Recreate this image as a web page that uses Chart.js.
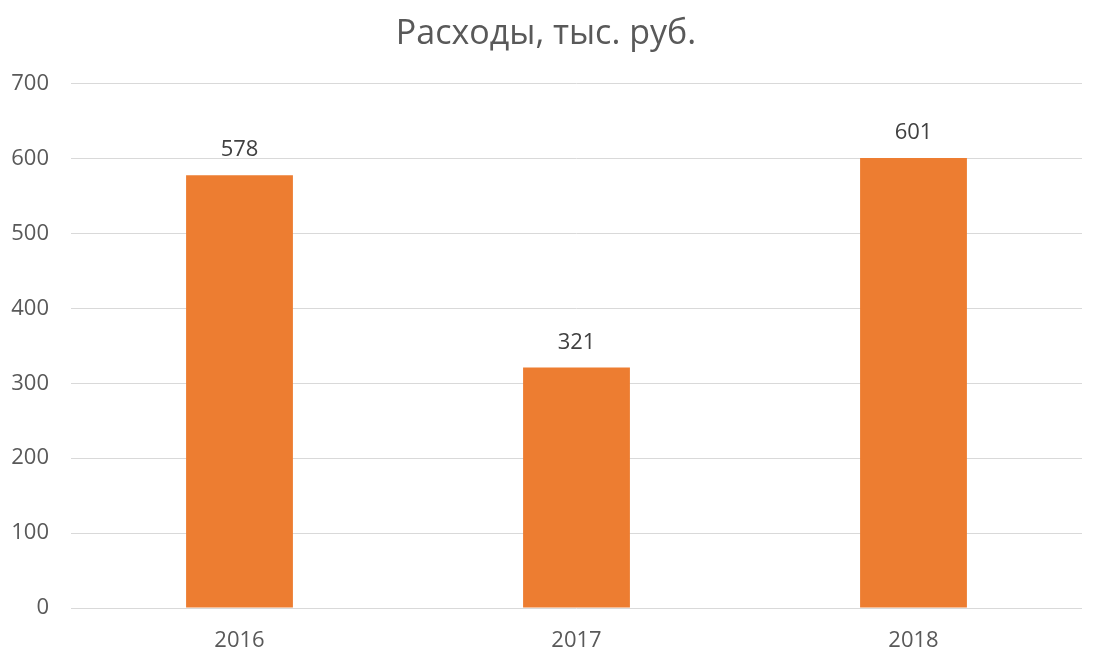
<!DOCTYPE html>
<html>
<head>
<meta charset="utf-8">
<script src="https://cdn.jsdelivr.net/npm/chart.js@4"></script>
<style>
html,body{margin:0;padding:0;background:#fff;}
#wrap{width:1099px;height:666px;position:relative;}
</style>
</head>
<body>
<div id="wrap"><canvas id="c" width="1099" height="666"></canvas></div>
<script>
const categories = ["2016", "2017", "2018"];
const expenses = [578, 321, 601];
const chartTitle = "Расходы, тыс. руб.";

const FONT = "'Open Sans', sans-serif";

const valueLabels = {
  id: 'valueLabels',
  afterDatasetsDraw(chart) {
    const ctx = chart.ctx;
    ctx.save();
    ctx.font = "22px " + FONT;
    ctx.fillStyle = "#404040";
    ctx.textAlign = "center";
    ctx.textBaseline = "alphabetic";
    chart.getDatasetMeta(0).data.forEach((bar, i) => {
      ctx.fillText(String(expenses[i]), bar.x, bar.y - 19);
    });
    ctx.restore();
  }
};

new Chart(document.getElementById('c'), {
  type: 'bar',
  data: {
    labels: categories,
    datasets: [{
      data: expenses,
      backgroundColor: '#ED7D31',
      borderWidth: 0,
      categoryPercentage: 1,
      barPercentage: 0.317
    }]
  },
  options: {
    responsive: false,
    animation: false,
    devicePixelRatio: 1,
    layout: { padding: { left: 10, right: 17, top: 8, bottom: 0 } },
    plugins: {
      legend: { display: false },
      tooltip: { enabled: false },
      title: {
        display: true,
        text: chartTitle,
        color: '#595959',
        font: { family: FONT, size: 34, weight: 'normal', lineHeight: 1.2 },
        padding: { top: 6, bottom: 29 }
      }
    },
    scales: {
      x: {
        grid: { display: false, drawTicks: false },
        border: { display: false },
        ticks: { color: '#595959', font: { family: FONT, size: 22 }, padding: 20 },
        afterFit: s => { s.height = 58; }
      },
      y: {
        min: 0, max: 700,
        ticks: { stepSize: 100, color: '#595959', font: { family: FONT, size: 22 }, padding: 22 },
        grid: { color: '#d9d9d9', lineWidth: 1, drawTicks: false },
        border: { display: false },
        afterFit: s => { s.width = 61; }
      }
    }
  },
  plugins: [valueLabels]
});
</script>
</body>
</html>
